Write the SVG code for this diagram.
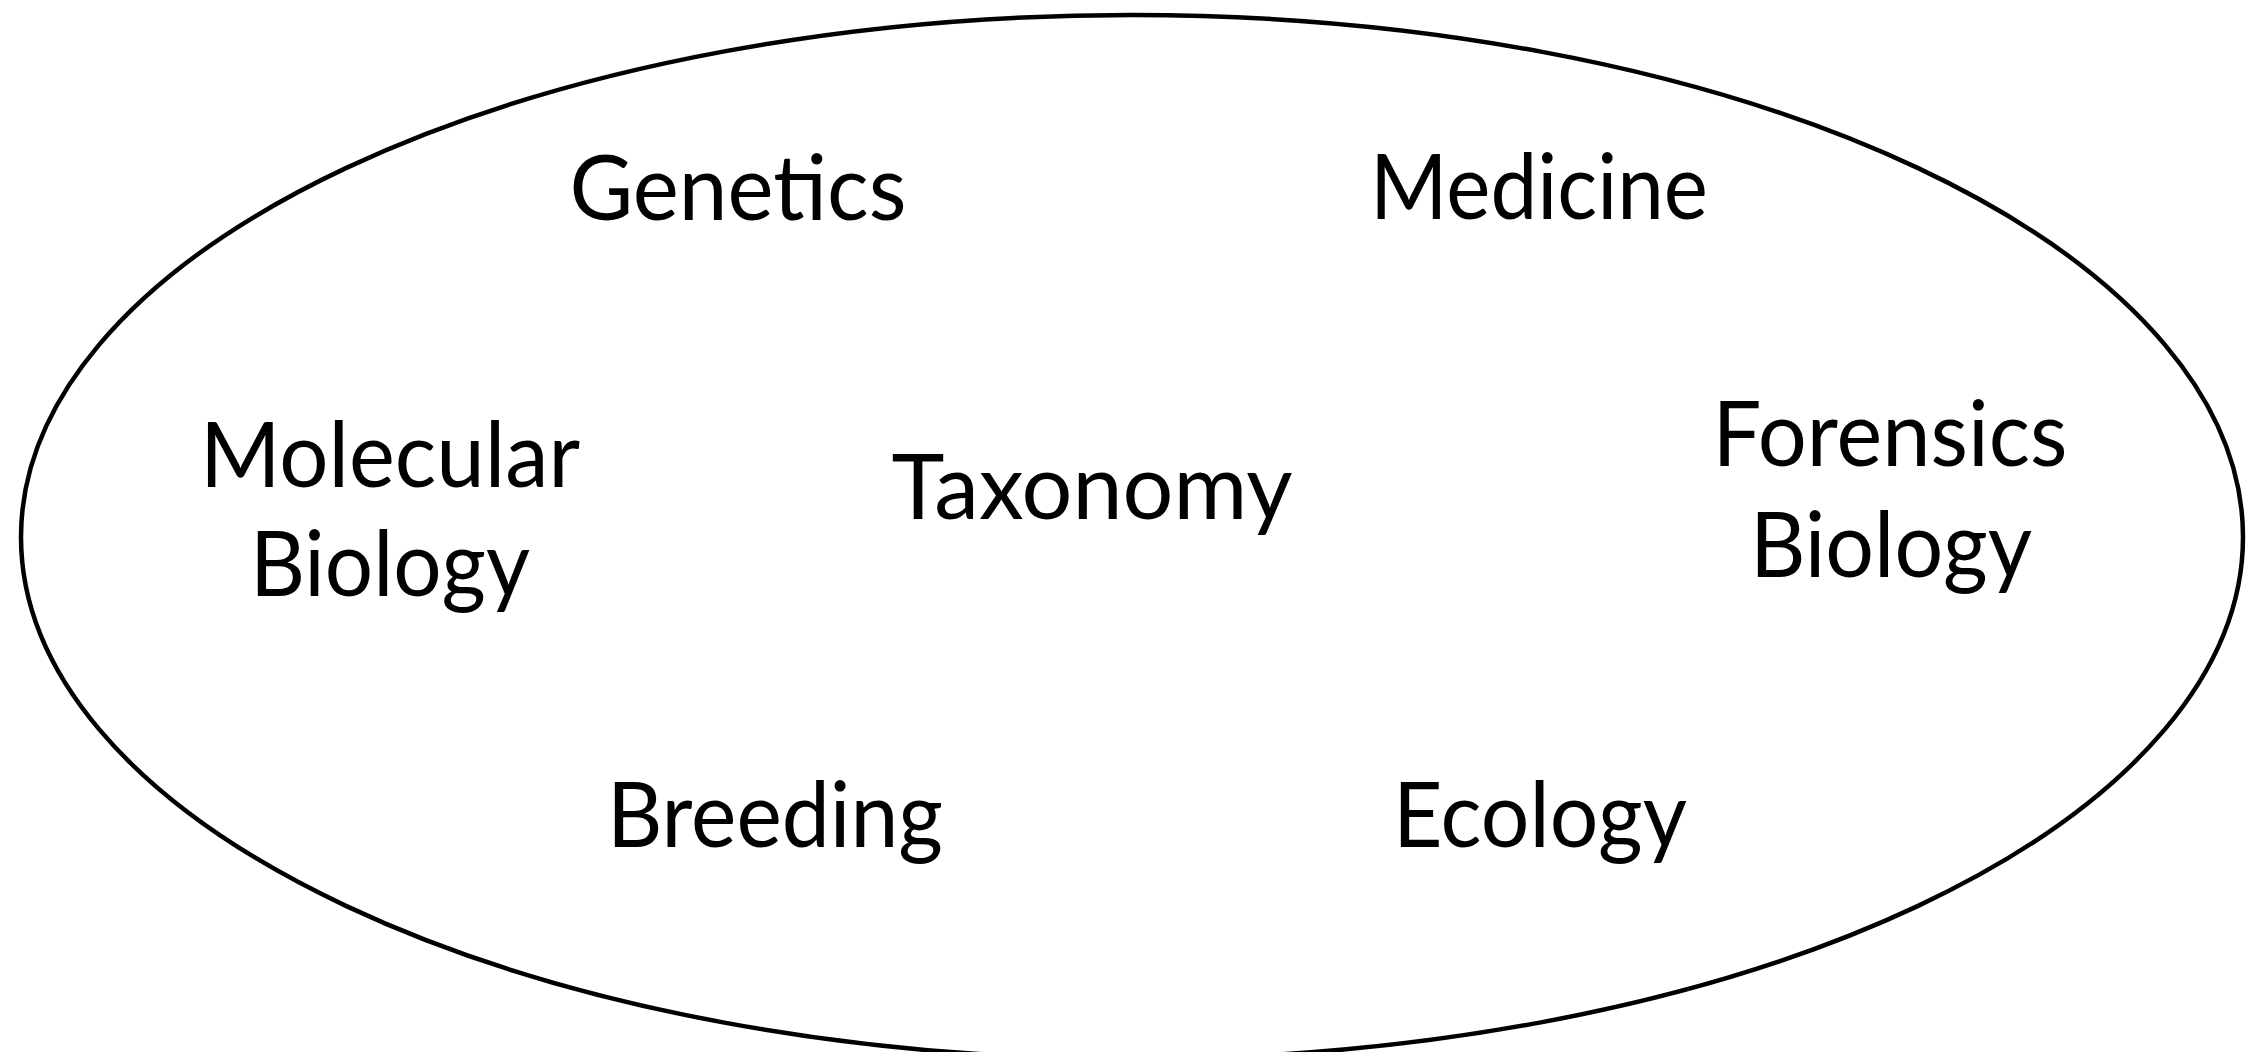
<svg xmlns="http://www.w3.org/2000/svg" width="2248" height="1052" viewBox="0 0 2248 1052">
<style>
.lbl{font-family:Lato,"Open Sans","Liberation Sans",sans-serif;font-size:92px;fill:#000;text-anchor:middle}
</style>
<rect width="2248" height="1052" fill="#fff"/>
<g id="boundary"><ellipse cx="1132" cy="537" rx="1111" ry="522" fill="none" stroke="#000" stroke-width="4.5"/></g>
<g id="genetics"><text class="lbl" x="738" y="220" textLength="337" lengthAdjust="spacingAndGlyphs">Genetics</text></g>
<g id="medicine"><text class="lbl" x="1539" y="219" textLength="338" lengthAdjust="spacingAndGlyphs">Medicine</text></g>
<g id="molecular-biology"><text class="lbl" x="390" y="487" textLength="380" lengthAdjust="spacingAndGlyphs">Molecular</text><text class="lbl" x="390" y="596" textLength="280" lengthAdjust="spacingAndGlyphs">Biology</text></g>
<g id="taxonomy"><text class="lbl" x="1092" y="519" textLength="401" lengthAdjust="spacingAndGlyphs">Taxonomy</text></g>
<g id="forensics-biology"><text class="lbl" x="1890" y="466" textLength="355" lengthAdjust="spacingAndGlyphs">Forensics</text><text class="lbl" x="1891" y="577" textLength="282" lengthAdjust="spacingAndGlyphs">Biology</text></g>
<g id="breeding"><text class="lbl" x="775" y="847" textLength="336" lengthAdjust="spacingAndGlyphs">Breeding</text></g>
<g id="ecology"><text class="lbl" x="1540" y="847" textLength="294" lengthAdjust="spacingAndGlyphs">Ecology</text></g>
<g id="connectors"></g>
</svg>
